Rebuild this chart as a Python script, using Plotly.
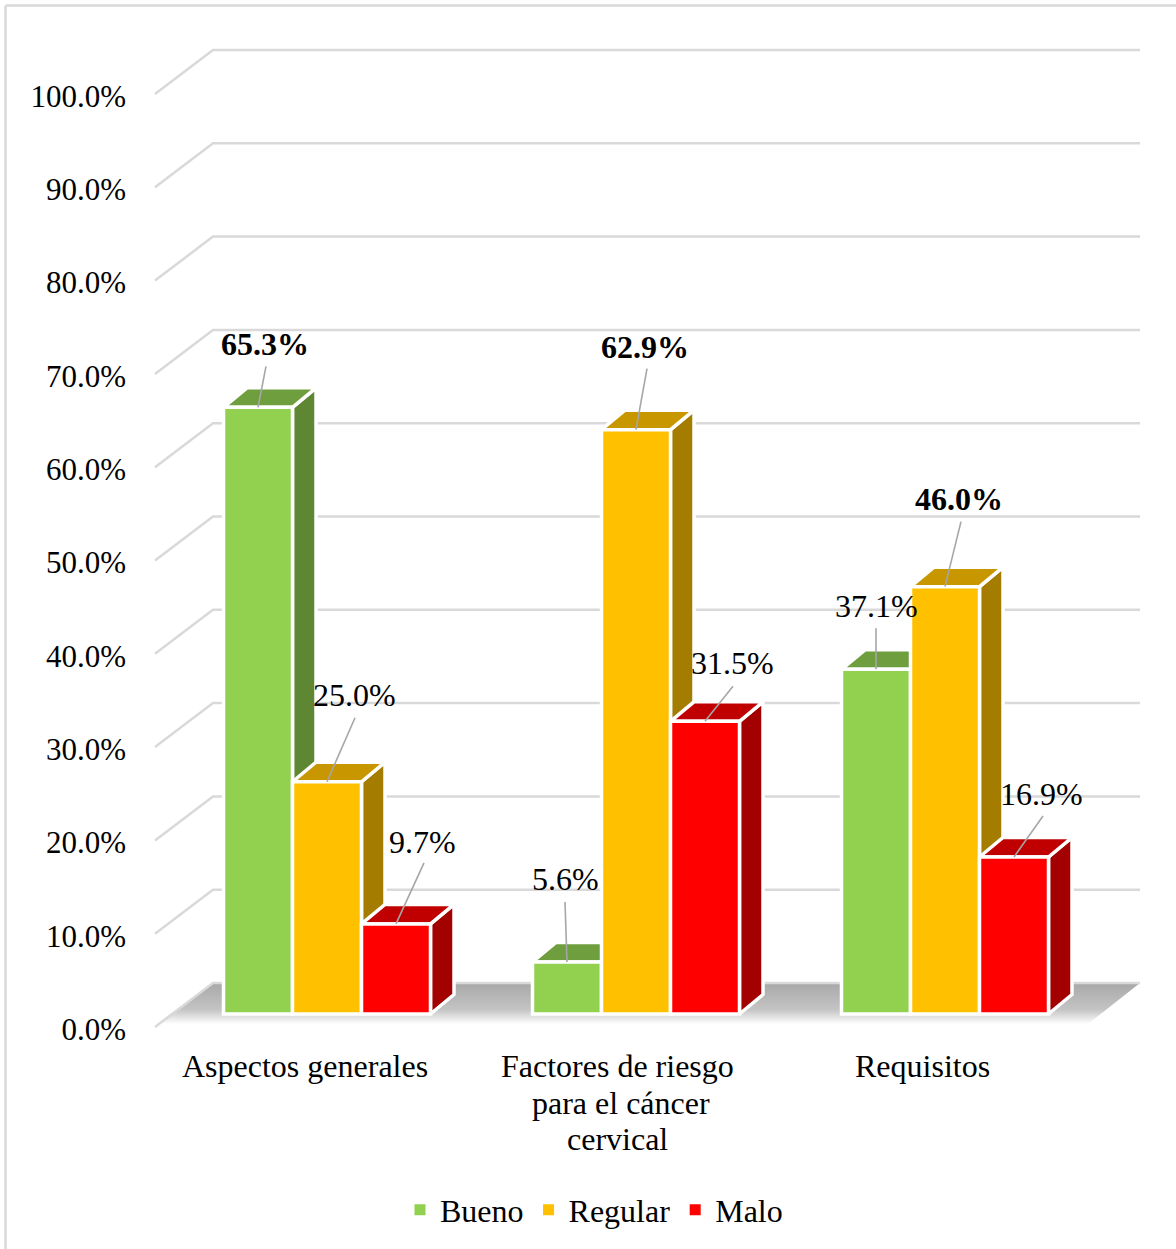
import plotly.graph_objects as go

# ---------- data ----------
categories = ["Aspectos generales", "Factores de riesgo para el cáncer cervical", "Requisitos"]
category_lines = [["Aspectos generales"], ["Factores de riesgo", "para el cáncer", "cervical"], ["Requisitos"]]
series_names = ["Bueno", "Regular", "Malo"]
bueno = [65.3, 5.6, 37.1]
regular = [25.0, 62.9, 46.0]
malo = [9.7, 31.5, 16.9]
y_ticks = [0, 10, 20, 30, 40, 50, 60, 70, 80, 90, 100]
y_tick_labels = ["0.0%", "10.0%", "20.0%", "30.0%", "40.0%", "50.0%", "60.0%", "70.0%", "80.0%", "90.0%", "100.0%"]
bold_labels = [65.3, 62.9, 46.0]

# ---------- styles ----------
FONT = "Liberation Serif"
front_colors = ["#92D050", "#FFC000", "#FF0000"]
top_colors = ["#6F9E3E", "#C89700", "#C00000"]
side_colors = ["#5F8733", "#A37C00", "#A30000"]
GRID = "#D9D9D9"
W, H = 1176, 1249
PLOT_LEFT = 130
CENTER0, GROUP_PX = 327.0, 309.0     # pixel of first group centre, pixels per category
BAR_PX = 69.0
DEPTH_X, DEPTH_Y = 23.5, 19.5        # bar depth in pixels
AX_ZERO, AX_UNIT = 1029.0, 9.33      # tick-label plane
AX_LIFT = 2.0                        # wall front edge sits slightly above its tick label
BAR_ZERO, BAR_UNIT = 1014.0, 9.29    # bar plane
WALL_X0, WALL_X1, WALL_X2 = 155.0, 213.0, 1140.0
WALL_DY = 46.0
FLOOR_FRONT_Y, FLOOR_X0, FLOOR_X1 = 1024.0, 158.0, 1088.0

# pixel offsets of each label (dx, dy from bar top centre) and leader-line start
label_dx = [[7, 27, 26], [-2, 9, 27], [0, 14, 27]]
label_dy = [[-63, -87, -82], [-83, -83, -58], [-63, -88, -63]]
leader_dx = [[8, 28, 28], [-2, 11, 28], [0, 16, 29]]
leader_dy = [[-41, -64, -61], [-60, -61, -35], [-41, -65, -41]]


def xu(px):
    return (px - CENTER0) / GROUP_PX


values = [bueno, regular, malo]
fig = go.Figure()

# wall gridlines (tick plane)
gx, gy = [], []
for t in y_ticks:
    gx += [xu(WALL_X0), xu(WALL_X1), xu(WALL_X2), None]
    gy += [t + AX_LIFT / AX_UNIT, t + WALL_DY / AX_UNIT, t + WALL_DY / AX_UNIT, None]

# floor
floor_back = WALL_DY / AX_UNIT
floor_front = (AX_ZERO - FLOOR_FRONT_Y) / AX_UNIT
fig.add_trace(go.Scatter(
    x=[xu(WALL_X1), xu(WALL_X2), xu(FLOOR_X1), xu(FLOOR_X0), xu(WALL_X1)],
    y=[floor_back, floor_back, floor_front, floor_front, floor_back],
    mode="lines", line=dict(width=0), fill="toself",
    fillgradient=dict(type="vertical",
                      colorscale=[[0, "rgba(255,255,255,1)"], [0.35, "#C4C4C4"], [1, "#A8A8A8"]]),
    showlegend=False, hoverinfo="skip"))
fig.add_trace(go.Scatter(x=gx, y=gy, mode="lines", line=dict(color=GRID, width=2.5),
                         showlegend=False, hoverinfo="skip"))

# depth faces of the bars
bar_w = BAR_PX / GROUP_PX
dx = DEPTH_X / GROUP_PX
dy = DEPTH_Y / BAR_UNIT
for c in range(len(categories)):
    for s in range(len(series_names)):
        v = values[s][c]
        xc = c + (s - 1) * bar_w
        xl, xr = xc - bar_w / 2, xc + bar_w / 2
        fig.add_trace(go.Scatter(
            x=[xr, xr + dx, xr + dx, xr, xr], y=[0, dy, v + dy, v, 0],
            yaxis="y2", mode="lines", line=dict(color="white", width=3.5), fill="toself",
            fillcolor=side_colors[s], showlegend=False, hoverinfo="skip"))
        fig.add_trace(go.Scatter(
            x=[xl, xl + dx, xr + dx, xr, xl], y=[v, v + dy, v + dy, v, v],
            yaxis="y2", mode="lines", line=dict(color="white", width=3.5), fill="toself",
            fillcolor=top_colors[s], showlegend=False, hoverinfo="skip"))

# front faces
for s, name in enumerate(series_names):
    fig.add_trace(go.Bar(x=list(range(len(categories))), y=values[s], name=name, yaxis="y3",
                         marker=dict(color=front_colors[s], line=dict(color="white", width=3.5)),
                         showlegend=False, hoverinfo="skip"))

# legend keys
for s, name in enumerate(series_names):
    fig.add_trace(go.Scatter(x=[None], y=[None], name=name, mode="markers", yaxis="y3",
                             marker=dict(symbol="square", size=11, color=front_colors[s]),
                             hoverinfo="skip"))

# leader lines and data labels
annotations = []
for c in range(len(categories)):
    for s in range(3):
        v = values[s][c]
        xc = c + (s - 1) * bar_w
        fig.add_trace(go.Scatter(
            x=[xc + leader_dx[c][s] / GROUP_PX, xc],
            y=[v - leader_dy[c][s] / BAR_UNIT, v],
            yaxis="y3", mode="lines", line=dict(color="#A6A6A6", width=1.6),
            showlegend=False, hoverinfo="skip"))
        txt = f"{v:.1f}%"
        if v in bold_labels:
            txt = f"<b>{txt}</b>"
        annotations.append(dict(x=xc, y=v, xref="x", yref="y3", text=txt, showarrow=False,
                                xshift=label_dx[c][s], yshift=-label_dy[c][s],
                                font=dict(family=FONT, size=32, color="black")))

# category labels, one annotation per line (tight line spacing)
cat_offset = [-22.5, -18.5, -22.5]
line_offset = [[0], [0, 3.5, -0.5], [0]]
for c, lines in enumerate(category_lines):
    for i, ln in enumerate(lines):
        annotations.append(dict(x=c, y=1 - (1066 + 36.5 * i) / H, xref="x", yref="paper", text=ln,
                                yanchor="middle", xshift=cat_offset[c] + line_offset[c][i], showarrow=False,
                                font=dict(family=FONT, size=32, color="black")))

yr_ax = [(AX_ZERO - H) / AX_UNIT, AX_ZERO / AX_UNIT]
yr_bar = [(BAR_ZERO - H) / BAR_UNIT, BAR_ZERO / BAR_UNIT]
hidden = dict(overlaying="y", showgrid=False, zeroline=False, showticklabels=False,
              ticks="", showline=False, range=yr_bar)

fig.update_layout(
    width=W, height=H, margin=dict(l=PLOT_LEFT, r=0, t=0, b=0, autoexpand=False),
    paper_bgcolor="white", plot_bgcolor="rgba(0,0,0,0)",
    barmode="group", bargap=1 - 3 * BAR_PX / GROUP_PX, bargroupgap=0,
    font=dict(family=FONT, size=32, color="black"),
    xaxis=dict(range=[xu(PLOT_LEFT), xu(W)], showgrid=False, zeroline=False,
               showticklabels=False, ticks="", showline=False),
    yaxis=dict(range=yr_ax, tickvals=y_ticks, ticktext=y_tick_labels, showgrid=False,
               zeroline=False, showline=False, ticks="", ticklabelstandoff=3,
               tickfont=dict(family=FONT, size=31, color="black")),
    yaxis2=hidden, yaxis3=hidden,
    legend=dict(orientation="h", xref="container", yref="container", x=594 / W, xanchor="center",
                y=1 - 1210 / H, yanchor="middle", font=dict(family=FONT, size=32, color="black"),
                bgcolor="rgba(0,0,0,0)"),
    annotations=annotations,
    shapes=[
        dict(type="line", xref="paper", yref="paper", x0=-(PLOT_LEFT - 5.5) / (W - PLOT_LEFT), x1=1,
             y0=1 - 5.5 / H, y1=1 - 5.5 / H, line=dict(color=GRID, width=2.5)),
        dict(type="line", xref="paper", yref="paper", x0=-(PLOT_LEFT - 5.5) / (W - PLOT_LEFT),
             x1=-(PLOT_LEFT - 5.5) / (W - PLOT_LEFT), y0=0, y1=1 - 5.5 / H,
             line=dict(color=GRID, width=2.5)),
    ],
)

fig.write_html("out.html", config={"displayModeBar": False},
               post_script="document.body.style.margin='0';document.body.style.overflow='hidden';")
